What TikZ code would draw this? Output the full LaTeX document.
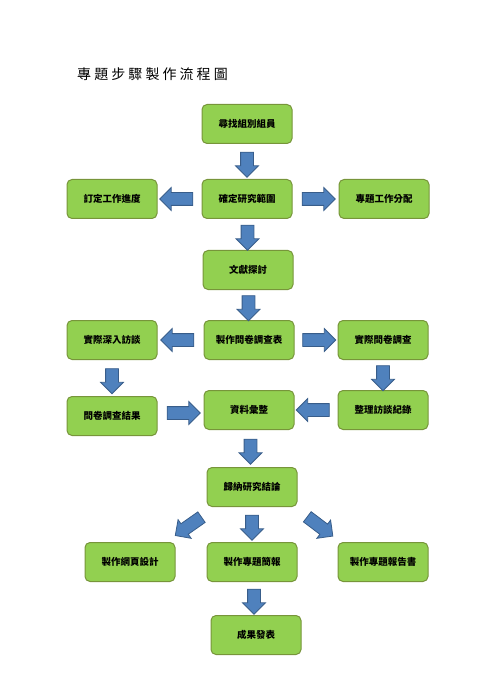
\documentclass[tikz,border=0pt]{standalone}
\usepackage{fontspec}
\setmainfont{Noto Sans CJK TC}
\newfontfamily\titlefont[LetterSpace=22]{Noto Sans CJK TC}
\usetikzlibrary{shapes.arrows,positioning,calc}
\definecolor{greenfill}{HTML}{92D050}
\definecolor{greenline}{HTML}{77953A}
\definecolor{bluefill}{HTML}{4F81BD}
\definecolor{blueline}{HTML}{385D8A}

\begin{document}
\begin{tikzpicture}[x=1pt,y=-1pt,node distance=31pt and 44pt]
		\tikzstyle{task}=[rectangle, rounded corners=5pt, draw=greenline, line width=1pt, fill=greenfill, minimum width=90pt, minimum height=39pt, font=\bfseries\fontsize{9.5}{11}\selectfont]
		\tikzstyle{fat arrow}=[single arrow, draw=blueline, fill=bluefill, line width=0.8pt, inner xsep=0pt, inner ysep=6pt, single arrow head extend=5pt, minimum height=25pt]
		\tikzstyle{fat arrow long}=[fat arrow, minimum height=33pt]

		\useasboundingbox (0,0) rectangle (495,700);
		\node [anchor=west, inner sep=0pt, font=\titlefont\fontsize{14}{16}\selectfont] (title) at (77,74) {專題步驟製作流程圖};

		\node [task] (find) at (247,124) {尋找組別組員};
		\node [task] (scope) [below=35pt of find] {確定研究範圍};
		\node [task] (plan) [left=44pt of scope] {訂定工作進度};
		\node [task] (assign) [right=46pt of scope] {專題工作分配};
		\node [task] (lit) [below=31pt of scope, xshift=1pt] {文獻探討};
		\node [task] (form) [below=30pt of lit, xshift=1pt] {製作問卷調查表};
		\node [task] (interview) [left=46pt of form] {實際深入訪談};
		\node [task] (survey) [right=43pt of form] {實際問卷調查};
		\node [task] (collect) [below=30pt of form] {資料彙整};
		\node [task] (results) [below=36pt of interview] {問卷調查結果};
		\node [task] (records) [below=30pt of survey] {整理訪談紀錄};
		\node [task] (conclude) [below=37pt of collect, xshift=3pt] {歸納研究結論};
		\node [task] (slides) [below=35pt of conclude] {製作專題簡報};
		\node [task] (web) [left=31pt of slides] {製作網頁設計};
		\node [task] (report) [right=40pt of slides] {製作專題報告書};
		\node [task] (present) [below=33pt of slides, xshift=4pt] {成果發表};

		\node [fat arrow, rotate=270] (t1) at ($(find.south)!0.5!(scope.north)$) {};
		\node [fat arrow long, rotate=180] (t2) at ($(scope.west)!0.5!(plan.east)$) {};
		\node [fat arrow long] (t3) at ($(scope.east)!0.5!(assign.west)$) {};
		\node [fat arrow, rotate=270] (t4) at ($(scope.south)!0.5!(lit.north)$) {};
		\node [fat arrow, rotate=270] (t5) at ($(lit.south)!0.5!(form.north)$) {};
		\node [fat arrow long, rotate=180] (t6) at ($(form.west)!0.5!(interview.east)$) {};
		\node [fat arrow long] (t7) at ($(form.east)!0.5!(survey.west)$) {};
		\node [fat arrow, rotate=270] (t8) at ($(interview.south)!0.5!(results.north)$) {};
		\node [fat arrow, rotate=270] (t9) at ($(survey.south)!0.5!(records.north)$) {};
		\node [fat arrow long] (t10) at ($(results.east)!0.5!(collect.west)$) {};
		\node [fat arrow long, rotate=180] (t11) at ($(records.west)!0.5!(collect.east)$) {};
		\node [fat arrow, rotate=270] (t12) at ($(collect.south)!0.5!(conclude.north)$) {};
		\node [fat arrow, minimum height=32pt, rotate=215] (t13) at ($(conclude)!0.5!(web)$) {};
		\node [fat arrow, rotate=270] (t14) at ($(conclude.south)!0.5!(slides.north)$) {};
		\node [fat arrow, minimum height=32pt, rotate=-37] (t15) at ($(conclude)!0.5!(report)$) {};
		\node [fat arrow, rotate=270] (t16) at ($(slides.south)!0.5!(present.north)$) {};
	\end{tikzpicture}
\end{document}
